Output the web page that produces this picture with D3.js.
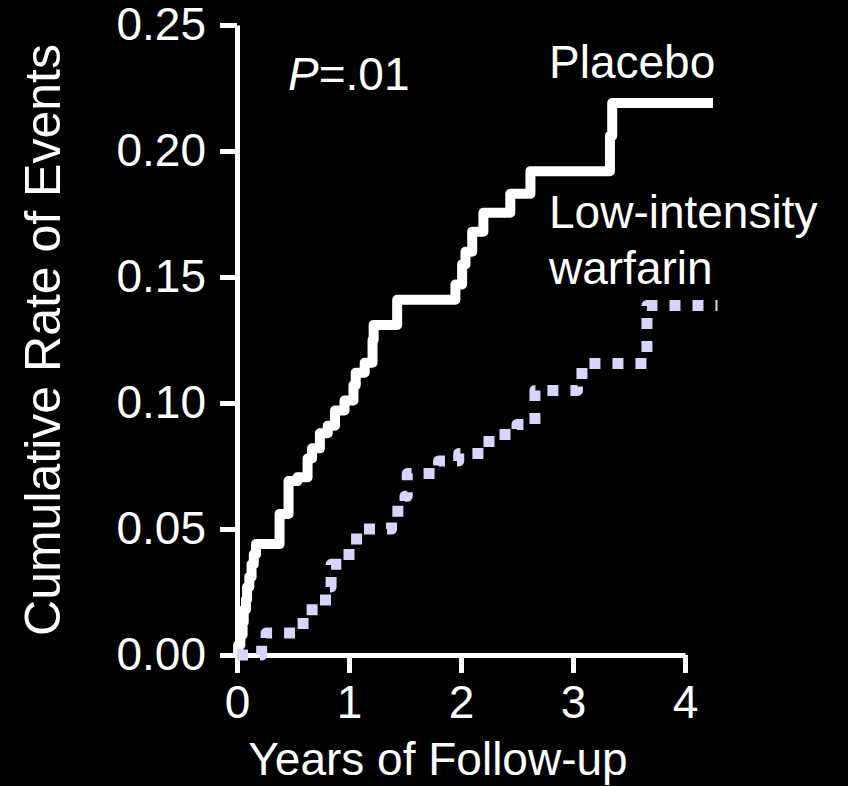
<!DOCTYPE html>
<html>
<head>
<meta charset="utf-8">
<script src="https://cdn.jsdelivr.net/npm/d3@7"></script>
<style>
  html, body { margin: 0; padding: 0; background: #000; }
  svg text { font-family: "Liberation Sans", Arial, sans-serif; fill: #fff; }
</style>
</head>
<body>
<div id="chart"></div>
<script>
// step times (years) and cumulative rates
var placeboTime = [0, 0.01, 0.03, 0.05, 0.06, 0.08, 0.09, 0.11, 0.13, 0.15, 0.17, 0.38, 0.46, 0.54, 0.63, 0.67, 0.74, 0.81, 0.875, 0.96, 1.04, 1.06, 1.14, 1.21, 1.22, 1.43, 1.95, 2.01, 2.04, 2.10, 2.20, 2.44, 2.62, 3.33, 3.35, 4.25];
var placeboRate = [0, 0.004, 0.008, 0.013, 0.018, 0.022, 0.027, 0.031, 0.036, 0.040, 0.044, 0.056, 0.069, 0.0705, 0.078, 0.082, 0.088, 0.091, 0.097, 0.101, 0.107, 0.112, 0.116, 0.125, 0.131, 0.141, 0.147, 0.155, 0.160, 0.168, 0.1755, 0.183, 0.192, 0.206, 0.219, 0.219];

var warfarinTime = [0, 0.22, 0.26, 0.59, 0.79, 0.84, 1.0, 1.12, 1.38, 1.5, 1.52, 1.8, 1.98, 2.25, 2.5, 2.66, 3.04, 3.08, 3.66, 4.29];
var warfarinRate = [0, 0.004, 0.0087, 0.018, 0.027, 0.036, 0.046, 0.050, 0.057, 0.063, 0.072, 0.077, 0.080, 0.0875, 0.0915, 0.105, 0.108, 0.1157, 0.1387, 0.1387];

var yTicks = [0, 0.05, 0.10, 0.15, 0.20, 0.25];
var xTicks = [0, 1, 2, 3, 4];

var w = 848, h = 786;

var x = d3.scaleLinear().domain([0, 4]).range([237, 685]);
var y = d3.scaleLinear().domain([0, 0.25]).range([655, 25]);

var svg = d3.select('#chart')
	.append('svg')
		.attr('width', w)
		.attr('height', h)
		.style('background', '#000');

var yAxis = d3.axisLeft(y).tickValues(yTicks).tickFormat(d3.format('.2f'))
	.tickSize(17).tickSizeOuter(0).tickPadding(14);
var xAxis = d3.axisBottom(x).tickValues(xTicks).tickFormat(d3.format('d'))
	.tickSize(18).tickSizeOuter(0).tickPadding(12);

function styleAxis(g) {
	g.select('.domain').attr('stroke', '#fff').attr('stroke-width', 5);
	g.selectAll('.tick line').attr('stroke', '#fff').attr('stroke-width', 5);
	g.selectAll('.tick text').attr('fill', '#fff')
		.style('font-family', '"Liberation Sans", Arial, sans-serif')
		.style('font-size', '46px');
}

svg.append('g')
	.attr('class', 'y axis')
	.attr('transform', 'translate(' + x(0) + ',0)')
	.call(yAxis)
	.call(styleAxis);

svg.append('g')
	.attr('class', 'x axis')
	.attr('transform', 'translate(0,' + y(0) + ')')
	.call(xAxis)
	.call(styleAxis);

var line = d3.line()
	.x(function(d) { return x(d[0]); })
	.y(function(d) { return y(d[1]); })
	.curve(d3.curveStepAfter);

svg.append('path')
	.attr('class', 'line placebo')
	.attr('d', line(d3.zip(placeboTime, placeboRate)))
	.attr('fill', 'none')
	.attr('stroke', '#fff')
	.attr('stroke-width', 10)
	.attr('stroke-linejoin', 'round');

svg.append('path')
	.attr('class', 'line warfarin')
	.attr('d', line(d3.zip(warfarinTime, warfarinRate)))
	.attr('fill', 'none')
	.attr('stroke', '#d6d6f8')
	.attr('stroke-width', 11)
	.attr('stroke-dasharray', '11,12')
	.attr('stroke-linejoin', 'round');

// labels
svg.append('text')
	.attr('transform', 'translate(60,340) rotate(-90)')
	.attr('text-anchor', 'middle')
	.style('font-size', '50px')
	.text('Cumulative Rate of Events');

svg.append('text')
	.attr('x', 438).attr('y', 775)
	.attr('text-anchor', 'middle')
	.style('font-size', '46px')
	.text('Years of Follow-up');

var p = svg.append('text')
	.attr('x', 288).attr('y', 90)
	.style('font-size', '46px');
p.append('tspan').style('font-style', 'italic').text('P');
p.append('tspan').text('=.01');

svg.append('text')
	.attr('x', 549).attr('y', 78)
	.style('font-size', '46px')
	.text('Placebo');

svg.append('text')
	.attr('x', 549).attr('y', 228)
	.style('font-size', '46px')
	.text('Low-intensity');

svg.append('text')
	.attr('x', 549).attr('y', 284)
	.style('font-size', '46px')
	.text('warfarin');
</script>
</body>
</html>
